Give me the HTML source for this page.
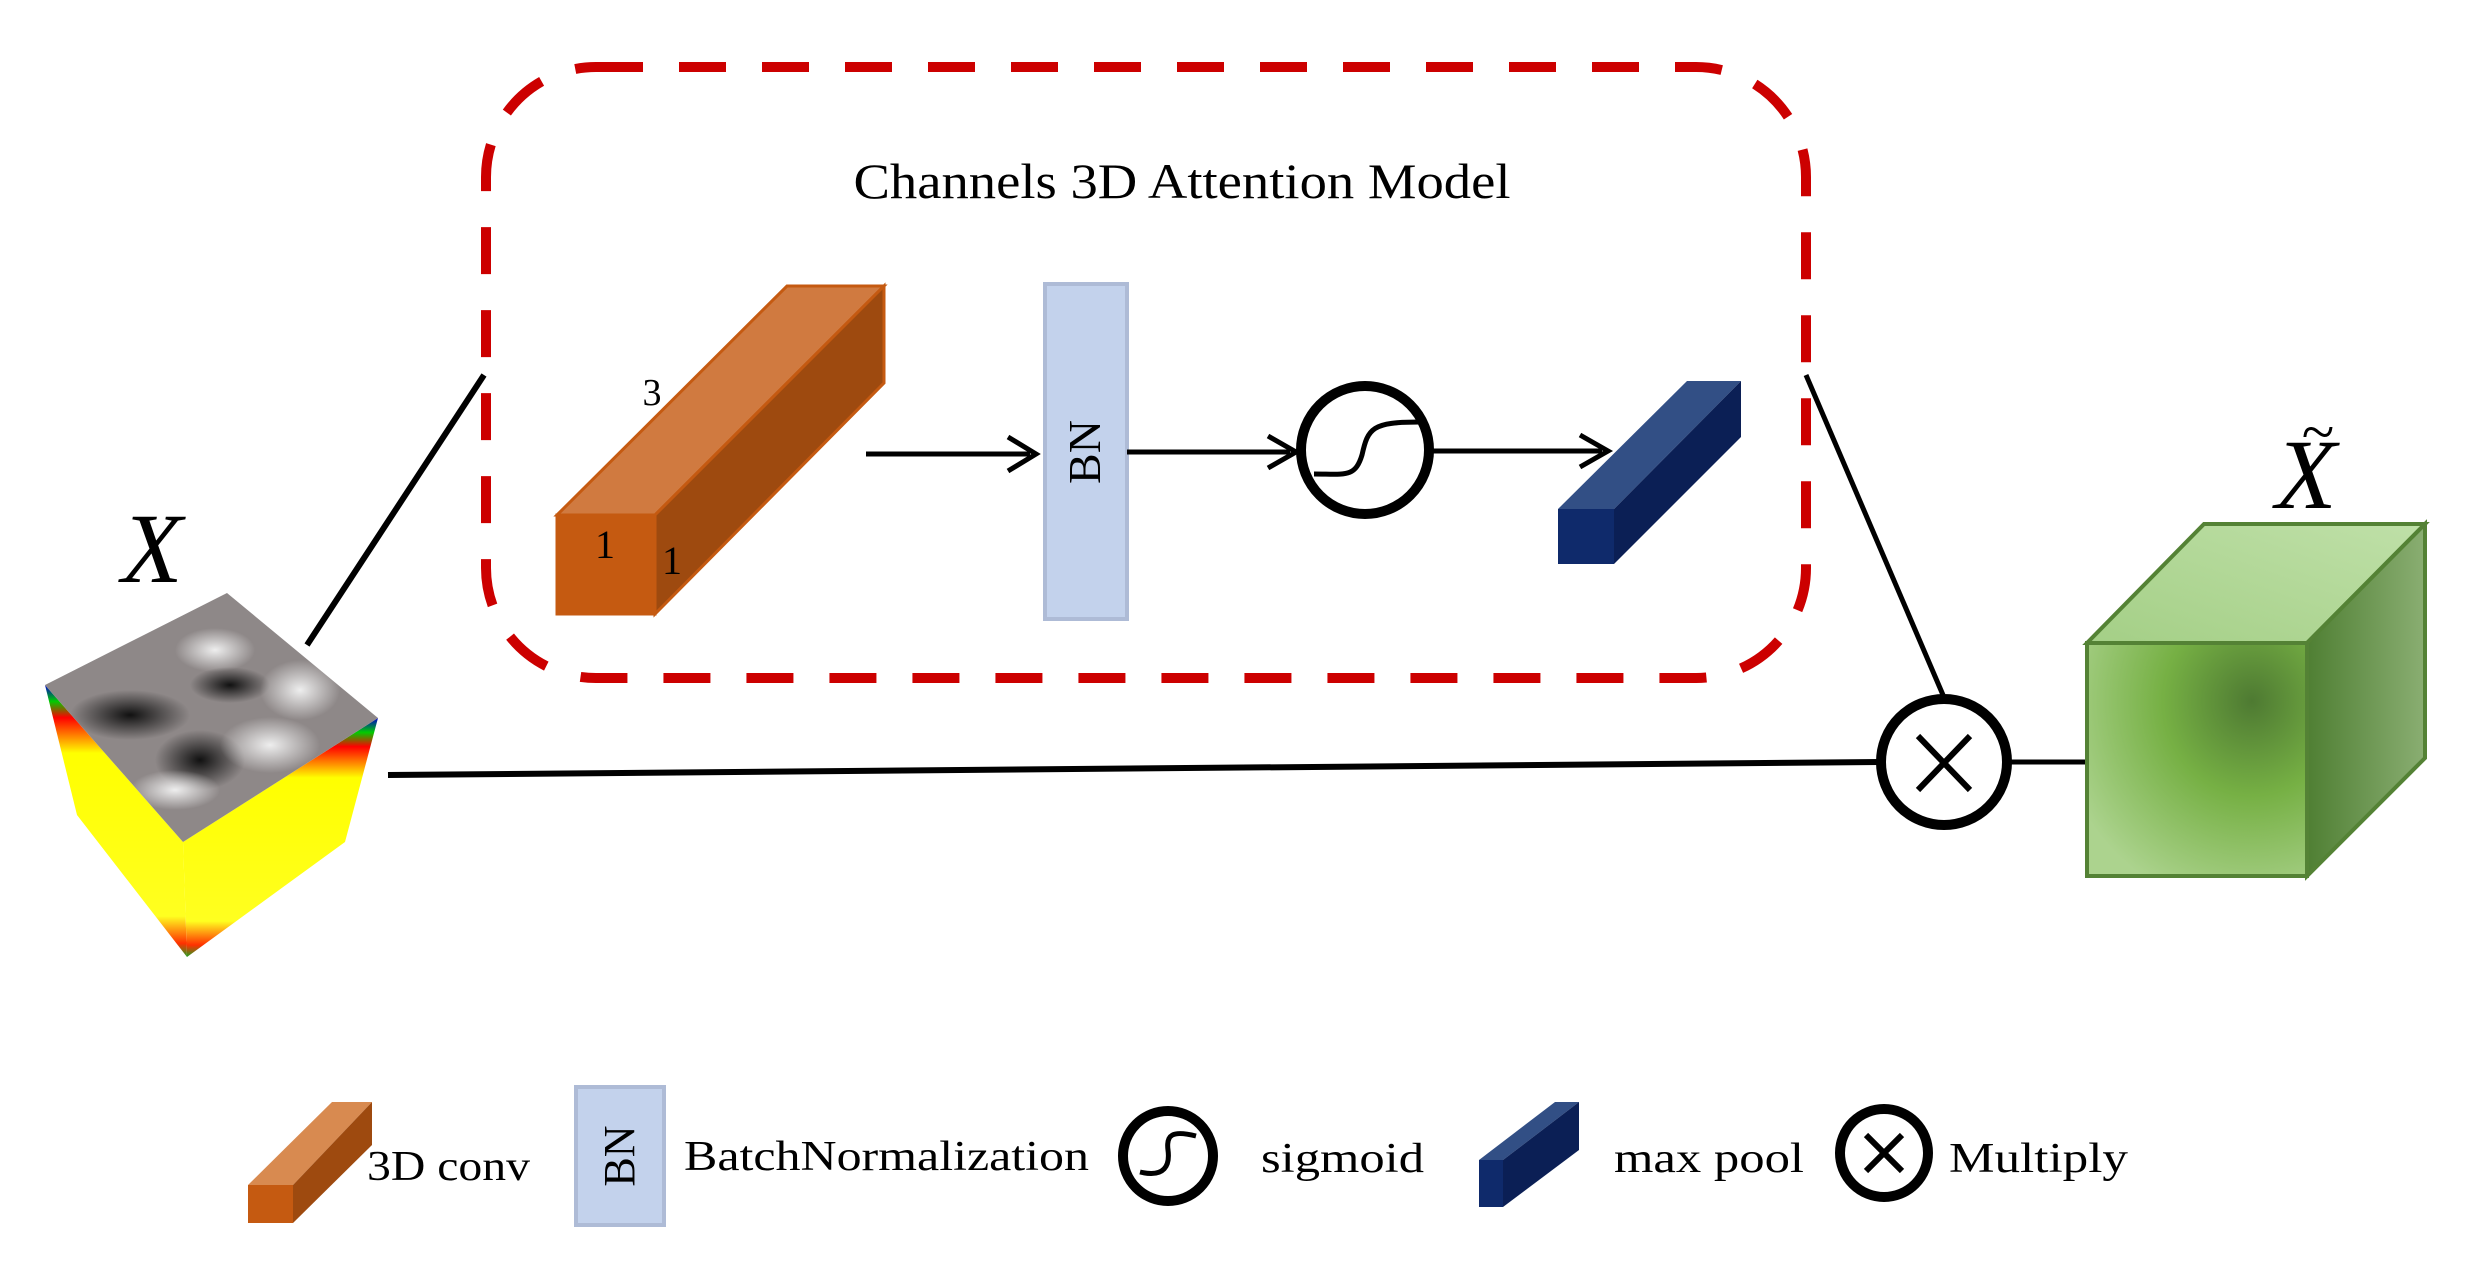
<!DOCTYPE html>
<html><head><meta charset="utf-8"><style>html,body{margin:0;padding:0;background:#fff}svg{display:block}</style></head>
<body>
<svg width="2481" height="1279" viewBox="0 0 2481 1279" xmlns="http://www.w3.org/2000/svg" font-family="'Liberation Serif', serif">
<defs>
<radialGradient id="gf" cx="0.75" cy="0.25" r="0.9">
<stop offset="0" stop-color="#4e7a32"/><stop offset="0.45" stop-color="#76b044"/><stop offset="1" stop-color="#acd38e"/></radialGradient>
<linearGradient id="gs" x1="0" y1="0" x2="1" y2="0"><stop offset="0" stop-color="#4f7f33"/><stop offset="1" stop-color="#8aae72"/></linearGradient>
<linearGradient id="gt" x1="0" y1="1" x2="1" y2="0"><stop offset="0" stop-color="#a4cf86"/><stop offset="1" stop-color="#bfe0a8"/></linearGradient>
<radialGradient id="d1" cx="0.5" cy="0.5" r="0.5"><stop offset="0" stop-color="#111"/><stop offset="1" stop-color="#111" stop-opacity="0"/></radialGradient>
<radialGradient id="w1" cx="0.5" cy="0.5" r="0.5"><stop offset="0" stop-color="#eee"/><stop offset="1" stop-color="#eee" stop-opacity="0"/></radialGradient>
<clipPath id="ct"><polygon points="45,685 227,593 378,718 183,842"/></clipPath>
<linearGradient id="ys" x1="0" y1="0" x2="0" y2="1"><stop offset="0" stop-color="#0000cc"/><stop offset="0.06" stop-color="#00cc00"/><stop offset="0.12" stop-color="#ff0000"/><stop offset="0.25" stop-color="#ffff00"/><stop offset="0.85" stop-color="#ffff20"/><stop offset="0.95" stop-color="#ff3000"/><stop offset="1" stop-color="#20a020"/></linearGradient>
</defs>

<!-- dashed box -->
<rect x="486" y="67" width="1320" height="611" rx="110" ry="110" fill="none" stroke="#cc0000" stroke-width="10" stroke-dasharray="47 36"/>
<text x="1182" y="198" font-size="50" text-anchor="middle" textLength="657" lengthAdjust="spacingAndGlyphs">Channels 3D Attention Model</text>

<!-- orange bar -->
<polygon points="557,515 787,286 884,286 655,515" fill="#d07a40" stroke="#c55a11" stroke-width="3"/>
<polygon points="655,515 884,286 884,383 655,614" fill="#9e4a0f" stroke="#c55a11" stroke-width="3"/>
<rect x="557" y="515" width="98" height="99" fill="#c55a11" stroke="#c55a11" stroke-width="3"/>
<text x="652" y="405" font-size="38" text-anchor="middle">3</text>
<text x="605" y="558" font-size="40" text-anchor="middle">1</text>
<text x="672" y="574" font-size="40" text-anchor="middle">1</text>

<!-- arrow to BN -->
<line x1="866" y1="454" x2="1030" y2="454" stroke="#000" stroke-width="5"/>
<polyline points="1008,437 1036,454 1008,471" fill="none" stroke="#000" stroke-width="5"/>
<rect x="1045" y="284" width="82" height="335" fill="#c3d2ec" stroke="#aebbd6" stroke-width="4"/>
<text transform="translate(1100,452) rotate(-90)" font-size="46" text-anchor="middle">BN</text>
<line x1="1127" y1="452" x2="1290" y2="452" stroke="#000" stroke-width="5"/>
<polyline points="1268,436 1296,452 1268,468" fill="none" stroke="#000" stroke-width="5"/>

<!-- sigmoid -->
<ellipse cx="1365" cy="450" rx="64" ry="64" fill="#fff" stroke="#000" stroke-width="10"/>
<path d="M1314,474 C1345,474 1355,478 1362,455 C1368,428 1372,422 1420,422" fill="none" stroke="#000" stroke-width="5"/>
<line x1="1430" y1="451" x2="1602" y2="451" stroke="#000" stroke-width="5"/>
<polyline points="1580,435 1608,451 1580,467" fill="none" stroke="#000" stroke-width="5"/>

<!-- blue bar -->
<polygon points="1558,509 1687,381 1741,381 1614,509" fill="#324f85"/>
<polygon points="1614,509 1741,381 1741,437 1614,564" fill="#0b1f55"/>
<rect x="1558" y="509" width="56" height="55" fill="#0f2a6b"/>

<!-- connectors -->
<line x1="307" y1="645" x2="484" y2="375" stroke="#000" stroke-width="6"/>
<line x1="1806" y1="375" x2="1943" y2="695" stroke="#000" stroke-width="5"/>
<line x1="388" y1="775" x2="1880" y2="762" stroke="#000" stroke-width="6"/>
<line x1="2008" y1="762" x2="2090" y2="762" stroke="#000" stroke-width="5"/>

<!-- multiply -->
<circle cx="1944" cy="762" r="63" fill="#fff" stroke="#000" stroke-width="10"/>
<line x1="1918" y1="736" x2="1970" y2="790" stroke="#000" stroke-width="6"/>
<line x1="1970" y1="736" x2="1918" y2="790" stroke="#000" stroke-width="6"/>

<!-- green cube -->
<polygon points="2087,643 2204,524 2425,524 2307,643" fill="url(#gt)" stroke="#548235" stroke-width="4"/>
<polygon points="2307,643 2425,524 2425,758 2307,876" fill="url(#gs)" stroke="#548235" stroke-width="4"/>
<rect x="2087" y="643" width="220" height="233" fill="url(#gf)" stroke="#548235" stroke-width="4"/>
<text x="2306" y="508" font-size="100" font-style="italic" text-anchor="middle">X</text>
<text x="2318" y="452" font-size="60" text-anchor="middle">~</text>

<!-- X label and cube -->
<text x="152" y="582" font-size="100" font-style="italic" text-anchor="middle">X</text>
<polygon points="45,685 183,842 187,957 77,815" fill="url(#ys)"/>
<polygon points="183,842 378,718 345,842 187,957" fill="url(#ys)"/>
<polygon points="45,685 227,593 378,718 183,842" fill="#8e8888"/>
<g clip-path="url(#ct)">
<ellipse cx="130" cy="715" rx="60" ry="25" fill="url(#d1)"/>
<ellipse cx="200" cy="760" rx="45" ry="30" fill="url(#d1)"/>
<ellipse cx="215" cy="650" rx="40" ry="22" fill="url(#w1)"/>
<ellipse cx="270" cy="745" rx="50" ry="28" fill="url(#w1)"/>
<ellipse cx="230" cy="685" rx="40" ry="18" fill="url(#d1)"/>
<ellipse cx="300" cy="690" rx="40" ry="30" fill="url(#w1)"/>
<ellipse cx="175" cy="790" rx="45" ry="20" fill="url(#w1)"/>
</g>

<!-- legend -->
<polygon points="248,1185 332,1102 372,1102 293,1185" fill="#d88a50"/>
<polygon points="293,1185 372,1102 372,1145 293,1223" fill="#9e4a0f"/>
<rect x="248" y="1185" width="45" height="38" fill="#c55a11"/>
<text x="367" y="1180" font-size="42" textLength="163" lengthAdjust="spacingAndGlyphs">3D conv</text>
<rect x="576" y="1087" width="88" height="138" fill="#c3d2ec" stroke="#aebbd6" stroke-width="4"/>
<text transform="translate(634,1156) rotate(-90)" font-size="44" text-anchor="middle">BN</text>
<text x="684" y="1170" font-size="42" textLength="405" lengthAdjust="spacingAndGlyphs">BatchNormalization</text>
<circle cx="1168" cy="1156" r="45" fill="#fff" stroke="#000" stroke-width="10"/>
<path d="M1140,1172 C1165,1178 1170,1165 1168,1150 C1166,1135 1172,1130 1196,1136" fill="none" stroke="#000" stroke-width="5"/>
<text x="1261" y="1172" font-size="42" textLength="163" lengthAdjust="spacingAndGlyphs">sigmoid</text>
<polygon points="1479,1160 1555,1102 1579,1102 1503,1160" fill="#324f85"/>
<polygon points="1503,1160 1579,1102 1579,1150 1503,1207" fill="#0b1f55"/>
<rect x="1479" y="1160" width="24" height="47" fill="#0f2a6b"/>
<text x="1614" y="1172" font-size="42" textLength="190" lengthAdjust="spacingAndGlyphs">max pool</text>
<circle cx="1884" cy="1153" r="44" fill="#fff" stroke="#000" stroke-width="10"/>
<line x1="1866" y1="1135" x2="1902" y2="1171" stroke="#000" stroke-width="6"/>
<line x1="1902" y1="1135" x2="1866" y2="1171" stroke="#000" stroke-width="6"/>
<text x="1949" y="1172" font-size="42" textLength="179" lengthAdjust="spacingAndGlyphs">Multiply</text>
</svg>
</body></html>
